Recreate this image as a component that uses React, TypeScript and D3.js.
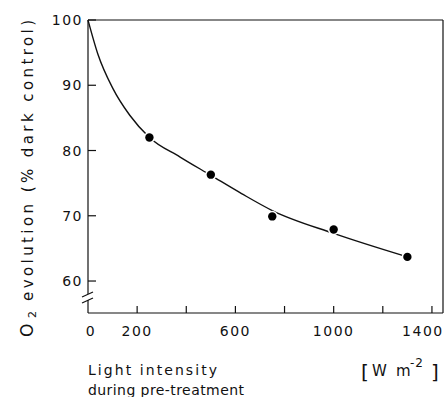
import * as d3 from "d3";

// measured points
const intensity = [250, 500, 750, 1000, 1300];
const o2Evolution = [82, 76.3, 69.9, 67.9, 63.7];

// fitted curve as drawn in the figure
const curveX = [0, 40, 100, 170, 250, 375, 500, 625, 750, 1000, 1300];
const curveY = [100, 94.8, 89.6, 85.4, 82, 79.0, 76.2, 73.4, 70.8, 67.3, 63.7];

const xTicks = [0, 200, 400, 600, 800, 1000, 1200, 1400];
const xTickLabels = ["0", "200", "", "600", "", "1000", "", "1400"];
const yTicks = [60, 70, 80, 90, 100];

const W = 448;
const H = 397;
const font = "'DejaVu Sans', sans-serif";

export default function App() {
  const x = d3.scaleLinear().domain([0, 1445]).range([88, 443]);
  const y = d3.scaleLinear().domain([55.1, 100]).range([313, 20]);

  const line = d3
    .line<number>()
    .x((d, i) => x(curveX[i]))
    .y((d) => y(d))
    .curve(d3.curveMonotoneX);

  const x0 = x(0);
  const yBot = y.range()[0];
  const yTop = y.range()[1];
  const xRight = x.range()[1];

  return (
    <svg
      width={W}
      height={H}
      style={{ position: "absolute", left: 0, top: 0, background: "#fff" }}
      fontFamily={font}
    >
      {/* box */}
      <g stroke="#111" strokeWidth={1.2} fill="none">
        <line x1={x0} x2={xRight} y1={yTop} y2={yTop} />
        <line x1={xRight} x2={xRight} y1={yTop} y2={yBot} />
        <line x1={x0} x2={xRight} y1={yBot} y2={yBot} />
        <line x1={x0} x2={x0} y1={yTop} y2={294} />
        <line x1={x0} x2={x0} y1={300} y2={yBot} />
        {/* axis break */}
        <line x1={x0 - 6} x2={x0 + 5} y1={297} y2={292} />
        <line x1={x0 - 6} x2={x0 + 5} y1={303} y2={298} />
      </g>

      {/* y ticks */}
      {yTicks.map((t) => (
        <g key={t}>
          <line x1={x0} x2={x0 + 8} y1={y(t)} y2={y(t)} stroke="#111" strokeWidth={1.2} />
          <text x={83} y={y(t)} dy="0.36em" textAnchor="end" fontSize={14} letterSpacing={1.5} fill="#111">
            {t}
          </text>
        </g>
      ))}

      {/* x ticks */}
      {xTicks.map((t, i) => (
        <g key={t}>
          {t > 0 && (
            <line x1={x(t)} x2={x(t)} y1={yBot} y2={yBot - 7} stroke="#111" strokeWidth={1.2} />
          )}
          <text
            x={x(t) + (t === 0 ? 3 : t === 1400 ? -9 : 0)}
            y={336}
            textAnchor="middle"
            fontSize={14}
            letterSpacing={1.5}
            fill="#111"
          >
            {xTickLabels[i]}
          </text>
        </g>
      ))}

      {/* fitted curve */}
      <path d={line(curveY) || ""} fill="none" stroke="#111" strokeWidth={1.4} />

      {/* data points */}
      {intensity.map((v, i) => (
        <circle key={v} cx={x(v)} cy={y(o2Evolution[i])} r={4.2} fill="#000" stroke="#fff" strokeWidth={3} paintOrder="stroke" />
      ))}

      {/* y label */}
      <g transform="translate(33,0) rotate(-90)" fill="#111">
        <text x={-337} y={0} fontSize={17}>O</text>
        <text x={-318} y={3} fontSize={11}>2</text>
        <text x={-301} y={0} fontSize={15} textLength={281} lengthAdjust="spacing">
          evolution (% dark control)
        </text>
      </g>

      {/* x label */}
      <text x={88} y={375} fontSize={14} textLength={129} lengthAdjust="spacing" fill="#111">
        Light intensity
      </text>
      <text x={88} y={395} fontSize={14} textLength={156} lengthAdjust="spacing" fill="#111">
        during pre-treatment
      </text>

      {/* units */}
      <text x={361} y={379} fontSize={20} fill="#111">[</text>
      <text x={372} y={376} fontSize={15} fill="#111">W</text>
      <text x={396} y={376} fontSize={15} fill="#111">m</text>
      <text x={410} y={367} fontSize={12} letterSpacing={1} fill="#111">-2</text>
      <text x={431} y={379} fontSize={20} fill="#111">]</text>
    </svg>
  );
}
